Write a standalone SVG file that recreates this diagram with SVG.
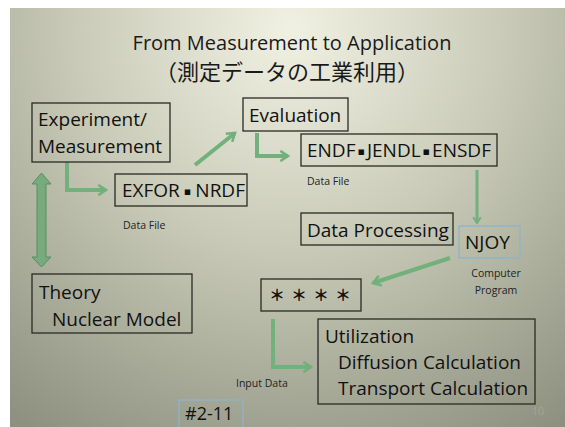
<svg xmlns="http://www.w3.org/2000/svg" width="565" height="427" viewBox="0 0 565 427">
<defs>
<radialGradient id="bg" cx="290" cy="30" r="480" gradientUnits="userSpaceOnUse">
<stop offset="0" stop-color="#f1f1e3"/>
<stop offset="0.45" stop-color="#c9cbb8"/>
<stop offset="1" stop-color="#8d8f7f"/>
</radialGradient>
<marker id="ah" viewBox="0 0 10 10" refX="7" refY="5" markerWidth="3.2" markerHeight="3.2" orient="auto" markerUnits="strokeWidth">
<path d="M1,1 L7,5 L1,9" fill="none" stroke="#72b07c" stroke-width="2"/>
</marker>
<style>
.box{fill:none;stroke:#2a2a24;stroke-width:1.3}
.bbox{fill:none;stroke:#8fb2c8;stroke-width:1.3}
.t{font-family:"Open Sans","Noto Sans",sans-serif;font-size:19px;fill:#111}
.s{font-family:"Open Sans","Noto Sans",sans-serif;font-size:10.5px;fill:#222}
.ttl{font-family:"Open Sans","Noto Sans CJK JP",sans-serif;font-size:20px;fill:#1a1a1a}
.jp{font-family:"Noto Sans CJK JP",sans-serif;font-size:22px;fill:#1a1a1a}
.dot{font-family:"DejaVu Sans",sans-serif;font-size:11px}
.star{font-family:"Noto Sans CJK JP",sans-serif;font-size:16px;font-weight:bold;fill:#111}
.c{fill:none;stroke:#72b07c;stroke-width:4;marker-end:url(#ah)}
</style>
</defs>
<rect x="0" y="0" width="565" height="427" fill="#ffffff"/>
<rect x="10" y="8" width="555" height="419" fill="url(#bg)"/>
<g id="title">
<text class="ttl" x="292" y="50" text-anchor="middle">From Measurement to Application</text>
<text class="jp" x="287" y="80" text-anchor="middle">（測定データの工業利用）</text>
</g>
<g id="connectors">
<polyline class="c" points="67,162 67,190 106,190"/>
<line class="c" x1="195" y1="165" x2="235" y2="133"/>
<polyline class="c" points="257,133 257,156 288,156"/>
<line class="c" x1="477" y1="170" x2="477" y2="223" style="stroke-width:3"/>
<line class="c" x1="450" y1="258" x2="373" y2="283"/>
<polyline class="c" points="273,319 273,367 311,367"/>
<path d="M41.5,173 L51,184 L46,184 L46,257 L51,257 L41.5,267 L32,257 L37,257 L37,184 L32,184 Z" fill="#77ab7d" stroke="#5b8c62" stroke-width="1"/>
</g>
<g id="experiment">
<rect class="box" x="32" y="103" width="138" height="59"/>
<text class="t" x="38" y="126">Experiment/</text>
<text class="t" x="38" y="153">Measurement</text>
</g>
<g id="evaluation">
<rect class="box" x="243" y="98" width="105" height="33"/>
<text class="t" x="249" y="122">Evaluation</text>
</g>
<g id="exfor">
<rect class="box" x="115" y="174" width="132" height="32"/>
<text class="t" x="122" y="197">EXFOR<tspan class="dot" dx="4" dy="-2">▪</tspan><tspan dx="4" dy="2">NRDF</tspan></text>
<text class="s" x="123" y="229">Data File</text>
</g>
<g id="endf">
<rect class="box" x="301" y="134" width="196" height="32"/>
<text class="t" x="307" y="157">ENDF<tspan class="dot" dx="2" dy="-2">▪</tspan><tspan dx="2" dy="2">JENDL</tspan><tspan class="dot" dx="2" dy="-2">▪</tspan><tspan dx="2" dy="2">ENSDF</tspan></text>
<text class="s" x="307" y="185">Data File</text>
</g>
<g id="processing">
<rect class="box" x="301" y="213" width="152" height="32"/>
<text class="t" x="307" y="237">Data Processing</text>
</g>
<g id="njoy">
<rect class="bbox" x="459" y="226" width="61" height="32"/>
<text class="t" x="465" y="249">NJOY</text>
<text class="s" x="496" y="277" text-anchor="middle">Computer</text>
<text class="s" x="496" y="294" text-anchor="middle">Program</text>
</g>
<g id="stars">
<rect class="box" x="261" y="279" width="100" height="32"/>
<text class="star" x="277 299 321 343" y="301" text-anchor="middle">＊＊＊＊</text>
</g>
<g id="utilization">
<rect class="box" x="318" y="319" width="217" height="85"/>
<text class="t" x="325" y="343">Utilization</text>
<text class="t" x="338" y="369">Diffusion Calculation</text>
<text class="t" x="338" y="395">Transport Calculation</text>
<text class="s" x="236" y="387">Input Data</text>
</g>
<g id="theory">
<rect class="box" x="32" y="274" width="160" height="59"/>
<text class="t" x="39" y="299">Theory</text>
<text class="t" x="52" y="326">Nuclear Model</text>
</g>
<g id="slideno">
<rect class="bbox" x="179" y="400" width="64" height="30"/>
<text class="t" x="185" y="420" style="font-size:18px">#2-11</text>
<text class="s" x="532" y="415" style="fill:#a4a694">10</text>
</g>
</svg>
